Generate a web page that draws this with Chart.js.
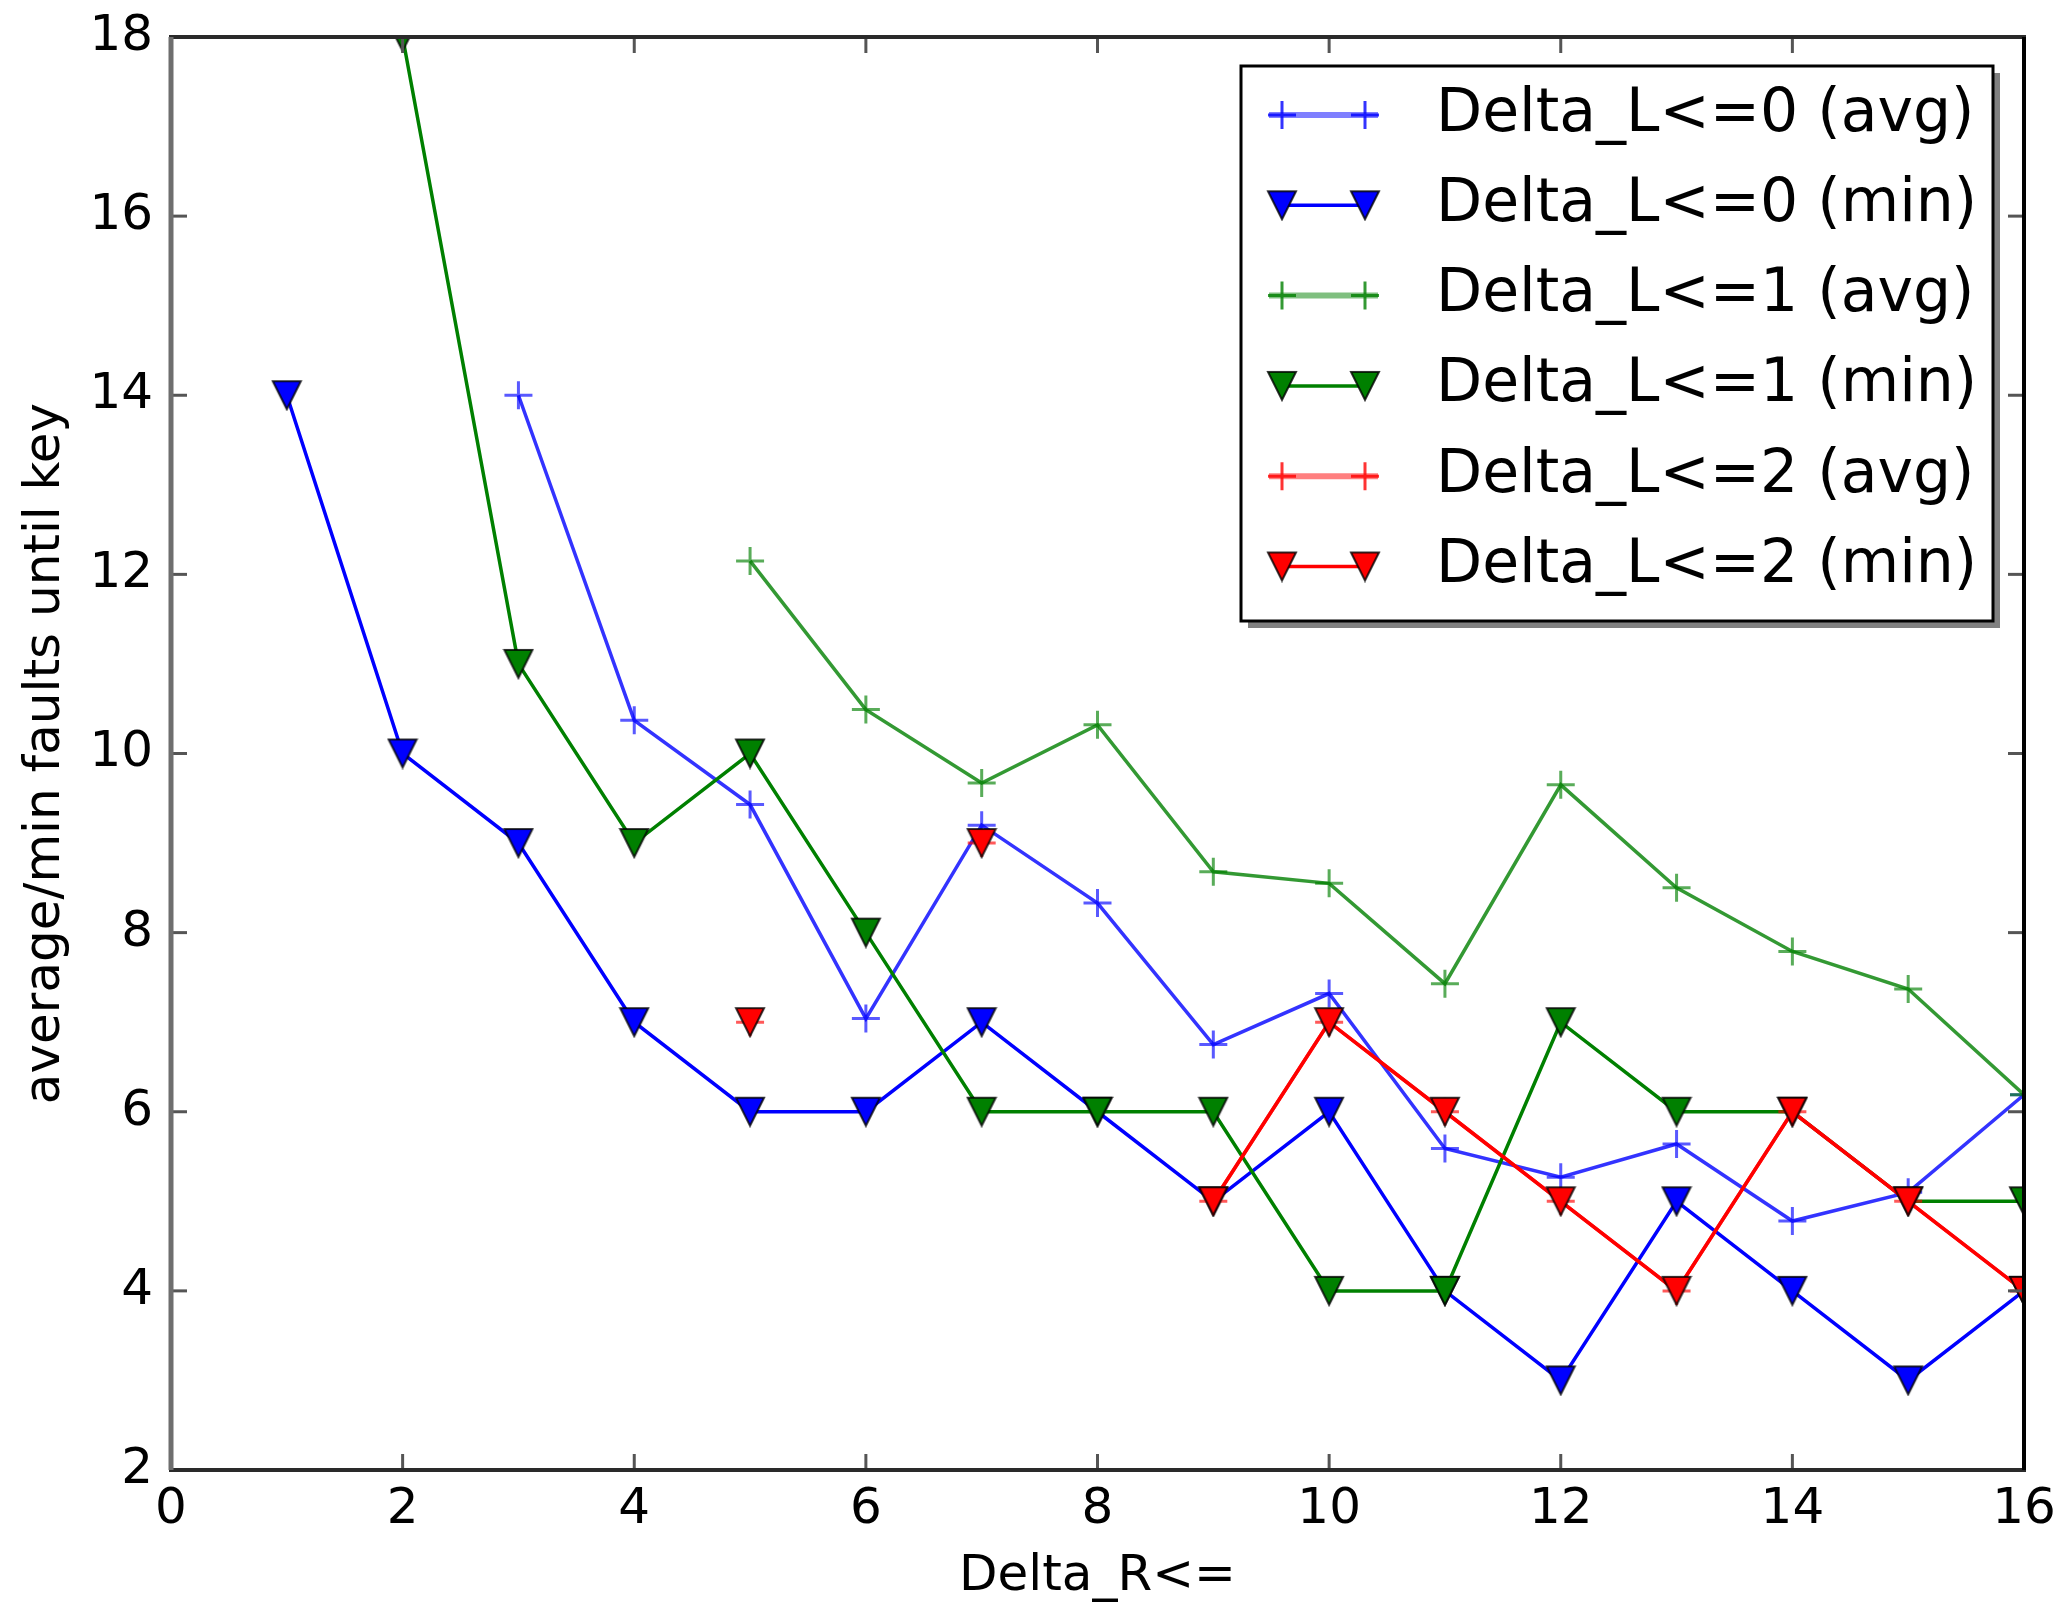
<!DOCTYPE html>
<html>
<head>
<meta charset="utf-8">
<title>average/min faults until key</title>
<script src="https://cdn.jsdelivr.net/npm/chart.js@4.4.1/dist/chart.umd.min.js"></script>
<style>
    html, body { margin: 0; padding: 0; background: #fff; }
    #wrap { width: 2064px; height: 1608px; }
</style>
</head>
<body>
<div id="wrap"><canvas id="faultChart" width="2064" height="1608"></canvas></div>
<script>
// Values
const deltaR = [1, 2, 3, 4, 5, 6, 7, 8, 9, 10, 11, 12, 13, 14, 15, 16];

// Delta_L<=0
const l0Avg = [null, null, 14.0, 10.37, 9.43, 7.04, 9.20, 8.33, 6.75, 7.32, 5.59, 5.27, 5.64, 4.78, 5.10, 6.19];
const l0Min = [14, 10, 9, 7, 6, 6, 7, 6, 5, 6, 4, 3, 5, 4, 3, 4];
// Delta_L<=1
const l1Avg = [null, null, null, null, 12.15, 10.49, 9.67, 10.32, 8.68, 8.55, 7.43, 9.65, 8.50, 7.79, 7.37, 6.19];
const l1Min = [null, 18, 11, 9, 10, 8, 6, 6, 6, 4, 4, 7, 6, 6, 5, 5];
// Delta_L<=2 (avg is hidden under the min markers everywhere)
const l2Avg = [null, null, null, null, 7, null, 9, null, 5, 7, 6, 5, 4, 6, 5, 4];
const l2Min = [null, null, null, null, 7, null, 9, null, 5, 7, 6, 5, 4, 6, 5, 4];

const seriesLabels = [
    'Delta_L<=0 (avg)', 'Delta_L<=0 (min)',
    'Delta_L<=1 (avg)', 'Delta_L<=1 (min)',
    'Delta_L<=2 (avg)', 'Delta_L<=2 (min)'
];
const xTicks = [0, 2, 4, 6, 8, 10, 12, 14, 16];
const yTicks = [2, 4, 6, 8, 10, 12, 14, 16, 18];

const FONT = 'DejaVu Sans';

// matplotlib style 'v' marker: flat top, tip down, centred on its box
function makeTriangle(fill) {
    const c = document.createElement('canvas');
    c.width = 32;
    c.height = 32;
    const g = c.getContext('2d');
    g.beginPath();
    g.moveTo(2, 2);
    g.lineTo(30, 2);
    g.lineTo(16, 30);
    g.closePath();
    g.fillStyle = fill;
    g.fill();
    g.lineWidth = 2;
    g.strokeStyle = 'rgba(0,0,0,0.8)';
    g.stroke();
    return c;
}

function series(values) {
    return deltaR.map((x, i) => ({ x: x, y: values[i] }));
}

function avgSet(label, values, rgb, order) {
    return {
        label: label,
        data: series(values),
        borderColor: `rgba(${rgb},0.8)`,
        borderWidth: 3.5,
        pointStyle: 'cross',
        pointRadius: 14,
        pointBorderWidth: 3,
        pointBorderColor: `rgba(${rgb},0.65)`,
        pointBackgroundColor: 'transparent',
        tension: 0,
        spanGaps: false,
        order: order,
        legendLine: `rgba(${rgb},0.5)`
    };
}

function minSet(label, values, color, order) {
    return {
        label: label,
        data: series(values),
        borderColor: color,
        borderWidth: 3.5,
        pointStyle: makeTriangle(color),
        pointRadius: 14,
        tension: 0,
        spanGaps: false,
        order: order,
        legendLine: color
    };
}

// Inward ticks on all four sides plus the frame
const frameAndTicks = {
    id: 'frameAndTicks',
    afterDatasetsDraw(chart) {
        const { ctx, chartArea: a, scales: { x, y } } = chart;
        const len = 16;
        const seg = (x1, y1, x2, y2) => { ctx.beginPath(); ctx.moveTo(x1, y1); ctx.lineTo(x2, y2); ctx.stroke(); };
        ctx.save();
        ctx.strokeStyle = '#555';
        ctx.lineWidth = 3;
        xTicks.forEach(v => {
            const px = x.getPixelForValue(v);
            seg(px, a.top, px, a.top + len);
            seg(px, a.bottom, px, a.bottom - len);
        });
        yTicks.forEach(v => {
            const py = y.getPixelForValue(v);
            seg(a.left, py, a.left + len, py);
            seg(a.right, py, a.right - len, py);
        });
        ctx.lineWidth = 4;
        ctx.strokeStyle = '#2a2a2a';
        seg(a.left - 2, a.top, a.right + 2, a.top);
        seg(a.left - 2, a.bottom, a.right + 2, a.bottom);
        ctx.strokeStyle = '#000';
        seg(a.right, a.top, a.right, a.bottom);
        ctx.strokeStyle = '#6e6e6e';
        ctx.lineWidth = 5;
        seg(a.left, a.top, a.left, a.bottom);
        ctx.restore();
    }
};

// Boxed legend with shadow, two markers per entry
const boxedLegend = {
    id: 'boxedLegend',
    afterDraw(chart) {
        const { ctx, chartArea: a } = chart;
        const right = a.right - 31;
        const top = a.top + 29;
        const left = right - 752;
        const height = 555;
        ctx.save();
        ctx.fillStyle = '#808080';
        ctx.fillRect(left + 7, top + 7, right - left, height);
        ctx.fillStyle = '#fff';
        ctx.fillRect(left, top, right - left, height);
        ctx.lineWidth = 3;
        ctx.strokeStyle = '#000';
        ctx.strokeRect(left, top, right - left, height);

        ctx.font = `60px "${FONT}"`;
        ctx.textBaseline = 'middle';
        ctx.textAlign = 'left';
        chart.data.datasets.forEach((ds, i) => {
            const cy = top + 49 + i * 90.3;
            const m1 = left + 41;
            const m2 = left + 124;
            const isAvg = ds.pointStyle === 'cross';
            ctx.lineWidth = isAvg ? 6 : ds.borderWidth;
            ctx.strokeStyle = ds.legendLine;
            ctx.beginPath();
            ctx.moveTo(isAvg ? m1 - 13 : m1, cy);
            ctx.lineTo(isAvg ? m2 + 13 : m2, cy);
            ctx.stroke();
            [m1, m2].forEach(mx => {
                if (isAvg) {
                    ctx.lineWidth = ds.pointBorderWidth;
                    ctx.strokeStyle = ds.borderColor;
                    ctx.beginPath();
                    ctx.moveTo(mx - 14, cy);
                    ctx.lineTo(mx + 14, cy);
                    ctx.moveTo(mx, cy - 14);
                    ctx.lineTo(mx, cy + 14);
                    ctx.stroke();
                } else {
                    const img = ds.pointStyle;
                    ctx.drawImage(img, mx - img.width / 2, cy - img.height / 2);
                }
            });
            ctx.fillStyle = '#000';
            ctx.fillText(ds.label, left + 195, cy);
        });
        ctx.restore();
    }
};

const ctx = document.getElementById('faultChart').getContext('2d');
new Chart(ctx, {
    type: 'line',
    data: {
        datasets: [
            avgSet(seriesLabels[0], l0Avg, '0,0,255', 6),
            minSet(seriesLabels[1], l0Min, '#0000ff', 5),
            avgSet(seriesLabels[2], l1Avg, '0,128,0', 4),
            minSet(seriesLabels[3], l1Min, '#008000', 3),
            avgSet(seriesLabels[4], l2Avg, '255,0,0', 2),
            minSet(seriesLabels[5], l2Min, '#ff0000', 1)
        ]
    },
    options: {
        responsive: false,
        animation: false,
        devicePixelRatio: 1,
        events: [],
        layout: { padding: { top: 37, right: 40, left: 0, bottom: 0 } },
        plugins: {
            legend: { display: false },
            tooltip: { enabled: false },
            title: { display: false }
        },
        scales: {
            x: {
                type: 'linear',
                min: 0,
                max: 16,
                afterBuildTicks: s => { s.ticks = xTicks.map(v => ({ value: v })); },
                afterFit: s => {
                    s.height = 138;
                    s.paddingLeft = 0;
                    s.paddingRight = 0;
                },
                grid: { display: false, drawTicks: false },
                border: { display: false },
                ticks: {
                    padding: 10,
                    maxRotation: 0,
                    autoSkip: false,
                    color: '#000',
                    font: { family: FONT, size: 50 }
                },
                title: {
                    display: true,
                    text: 'Delta_R<=',
                    color: '#000',
                    font: { family: FONT, size: 50 },
                    padding: { top: 0, bottom: 1 }
                }
            },
            y: {
                type: 'linear',
                min: 2,
                max: 18,
                afterBuildTicks: s => { s.ticks = yTicks.map(v => ({ value: v })); },
                afterFit: s => {
                    s.width = 171;
                    s.paddingTop = 0;
                    s.paddingBottom = 0;
                },
                grid: { display: false, drawTicks: false },
                border: { display: false },
                ticks: {
                    padding: 18,
                    autoSkip: false,
                    color: '#000',
                    font: { family: FONT, size: 50 }
                },
                title: {
                    display: true,
                    text: 'average/min faults until key',
                    color: '#000',
                    font: { family: FONT, size: 50 },
                    padding: { top: 16, bottom: 0 }
                }
            }
        }
    },
    plugins: [frameAndTicks, boxedLegend]
});
</script>
</body>
</html>
